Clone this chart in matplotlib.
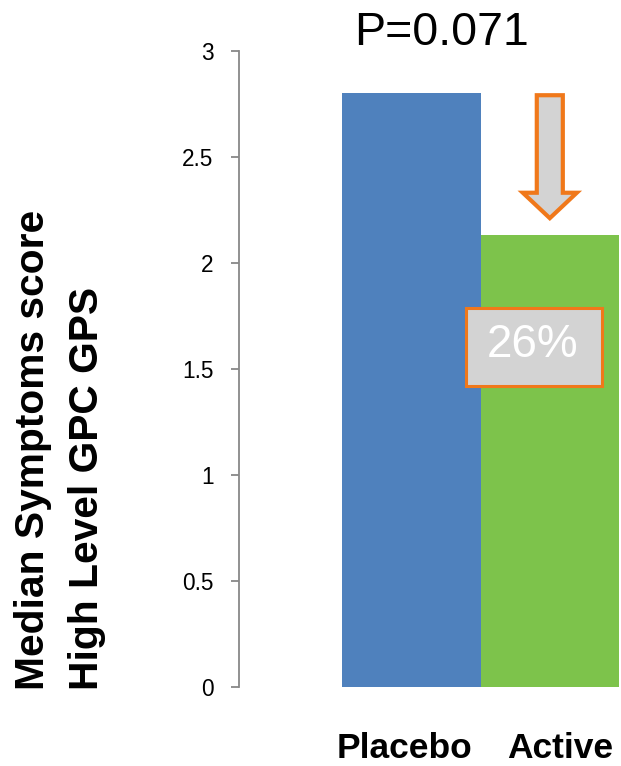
import matplotlib
matplotlib.use("Agg")
import matplotlib.pyplot as plt
from matplotlib.patches import Polygon, Rectangle

# Data
categories = ["Placebo", "Active"]
medians = [2.80, 2.13]
bar_colors = ["#4F81BD", "#7DC34B"]
y_ticks = [0, 0.5, 1, 1.5, 2, 2.5, 3]
y_tick_labels = ["0", "0.5", "1", "1.5", "2", "2.5", "3"]
p_value_text = "P=0.071"
reduction_text = "26%"
ylabel_lines = ["Median Symptoms score", "High Level GPC GPS"]

ORANGE = "#F0781A"
GREY_FILL = "#D3D3D3"
FONT = "Liberation Sans"

W, H = 621, 766
fig = plt.figure(figsize=(W / 100, H / 100), dpi=100)
ax = fig.add_axes([239 / W, (H - 686.7) / H, (W - 239) / W, (686.7 - 50.7) / H])

x = list(range(len(categories)))
ax.bar(x, medians, width=1.0, color=bar_colors, zorder=2)

ax.set_xlim(-1.244, 1.514)
ax.set_ylim(0, 3)
ax.set_yticks(y_ticks)
ax.set_yticklabels(y_tick_labels, fontfamily=FONT, fontsize=16.3)
ax.set_xticks([])

for s in ("top", "right", "bottom"):
    ax.spines[s].set_visible(False)
ax.spines["left"].set_color("#888888")
ax.spines["left"].set_linewidth(1.3)
ax.tick_params(axis="y", direction="out", length=5.8, width=1.3,
               color="#888888", pad=12.5)

# Category labels below the bars
for xi, name in zip([-0.049, 1.078], categories):
    ax.text(xi, -0.338, name, ha="center", va="baseline",
            fontsize=25.5, fontweight="bold", fontfamily=FONT, clip_on=False)

# P value above the bars
ax.text(0.22, 3.027, p_value_text, ha="center", va="baseline",
        fontsize=33.5, fontfamily=FONT, clip_on=False)

# Downward arrow showing the drop from placebo to active
cx = 1.0
top = medians[0] - 0.01
tip = medians[1] + 0.08
neck = tip + 0.12
hw_shaft, hw_head = 0.094, 0.195
arrow_pts = [(cx - hw_shaft, top), (cx + hw_shaft, top), (cx + hw_shaft, neck),
             (cx + hw_head, neck), (cx, tip), (cx - hw_head, neck),
             (cx - hw_shaft, neck)]
ax.add_patch(Polygon(arrow_pts, closed=True, facecolor=GREY_FILL,
                     edgecolor=ORANGE, linewidth=3, joinstyle="miter", zorder=3))

# Percentage reduction box
ax.add_patch(Rectangle((0.395, 1.418), 0.982, 0.37, facecolor=GREY_FILL,
                       edgecolor=ORANGE, linewidth=2.2, zorder=3))
ax.text(0.875, 1.557, reduction_text, ha="center", va="baseline", color="white",
        fontsize=33, fontfamily=FONT, zorder=4)

# Two-line rotated y-axis title
for xb, line in zip([43.5 / W, 98 / W], ylabel_lines):
    fig.text(xb, (H - 690) / H, line, rotation=90, rotation_mode="anchor",
             ha="left", va="baseline", fontsize=29.3, fontweight="bold",
             fontfamily=FONT)

fig.savefig("out.png", dpi=100)
